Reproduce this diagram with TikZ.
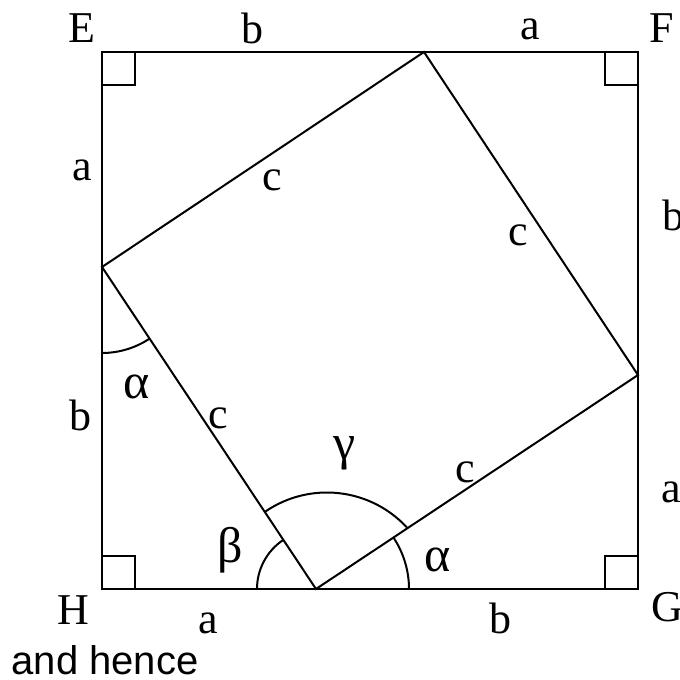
\documentclass[tikz,border=0pt]{standalone}
\usepackage{fontspec}
\setmainfont{Liberation Serif}
\setsansfont{Liberation Sans}

\tikzset{
  lbl/.style={
    font=\fontsize{22}{24}\selectfont,
    inner sep=0pt
  },
  greek/.style={
    font=\fontsize{25}{27}\selectfont,
    inner sep=0pt
  },
  corner/.style={
    line width=1pt
  }
}

\begin{document}
\begin{tikzpicture}[x=0.5pt,y=0.5pt,line width=1pt]
  \useasboundingbox (0,0) rectangle (680,680);

  \coordinate (H) at (102,91);
  \coordinate (G) at (638,91);
  \coordinate (F) at (638,628);
  \coordinate (E) at (102,628);
  \draw (H) -- (G) -- (F) -- (E) -- cycle;

  \coordinate (P) at (424,628);
  \coordinate (Q) at (638,305);
  \coordinate (R) at (316,91);
  \coordinate (S) at (102,413);
  \draw (P) -- (Q) -- (R) -- (S) -- cycle;

  \draw[corner] (H) rectangle ++(33,33);
  \draw[corner] (G) rectangle ++(-33,33);
  \draw[corner] (F) rectangle ++(-33,-33);
  \draw[corner] (E) rectangle ++(33,-33);

  \draw ([shift={(180:59)}]R) arc [start angle=180, end angle=123.6, radius=59];
  \draw ([shift={(0:93)}]R) arc [start angle=0, end angle=33.6, radius=93];
  \draw ([shift={(10.9,-12.5)}]R) ++(124.4:109) arc [start angle=124.4, end angle=42.8, radius=109];
  \draw ([shift={(270:86)}]S) arc [start angle=270, end angle=303.6, radius=86];

  \node[lbl] (lE) at (82,652) {E};
  \node[lbl] (lF) at (662,652) {F};
  \node[lbl] (lG) at (667,73) {G};
  \node[lbl] (lH) at (73,70) {H};

  \node[lbl] (top b) at (252,652) {b};
  \node[lbl] (top a) at (530,651) {a};
  \node[lbl] (left a) at (82,510) {a};
  \node[lbl] (left b) at (80,265) {b};
  \node[lbl] (right b) at (673,465) {b};
  \node[lbl] (right a) at (671,188) {a};
  \node[lbl] (bot a) at (208,57) {a};
  \node[lbl] (bot b) at (500,62) {b};

  \node[lbl] (c1) at (272,500) {c};
  \node[lbl] (c2) at (518,445) {c};
  \node[lbl] (c3) at (218,262) {c};
  \node[lbl] (c4) at (465,208) {c};

  \node[greek] (alpha1) at (137,293) {α};
  \node[greek] (alpha2) at (438,120) {α};
  \node[greek] (beta) at (230,130) {β};
  \node[greek] (gamma) at (345,227) {γ};

  \node[font=\sffamily\fontsize{20}{22}\selectfont, inner sep=0pt] (hence) at (105,20) {and hence};
\end{tikzpicture}
\end{document}
